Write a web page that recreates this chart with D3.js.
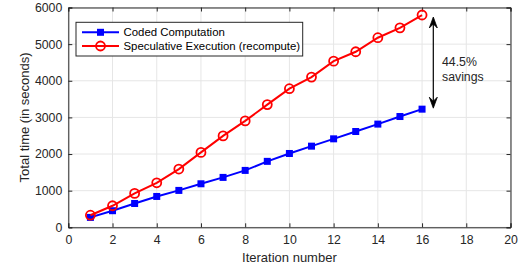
<!DOCTYPE html>
<html><head><meta charset="utf-8">
<script src="https://cdn.jsdelivr.net/npm/d3@7"></script>
<style>body{margin:0;background:#fff}svg{display:block;font-family:"Liberation Sans",Arial,sans-serif}</style>
</head><body><svg id="c" width="518" height="273"></svg>
<script>
const iterations = [1,2,3,4,5,6,7,8,9,10,11,12,13,14,15,16];
const coded = [270,453,650,842,1007,1188,1362,1553,1800,2015,2215,2415,2615,2817,3024,3225];
const speculative = [330,588,925,1215,1590,2045,2495,2905,3350,3783,4100,4535,4792,5175,5445,5795];
const xTicks = [0,2,4,6,8,10,12,14,16,18,20];
const yTicks = [0,1000,2000,3000,4000,5000,6000];
const seriesNames = ["Coded Computation","Speculative Execution (recompute)"];
const annotation = ["44.5%","savings"];

const svg = d3.select("#c");
const L=68.3, R=510.5, T=7.5, B=227.3;
const x = d3.scaleLinear().domain([0,20]).range([L,R]);
const y = d3.scaleLinear().domain([0,6000]).range([B,T]);
const axisCol="#262626";

// grid
const g = svg.append("g");
g.selectAll(".gx").data(xTicks).join("line").attr("x1",d=>x(d)).attr("x2",d=>x(d)).attr("y1",T).attr("y2",B).attr("stroke","#e6e6e6").attr("stroke-width",1);
g.selectAll(".gy").data(yTicks).join("line").attr("y1",d=>y(d)).attr("y2",d=>y(d)).attr("x1",L).attr("x2",R).attr("stroke","#e6e6e6").attr("stroke-width",1);

// axes
const xa = svg.append("g").attr("transform",`translate(0,${B})`).call(d3.axisBottom(x).tickValues(xTicks).tickSize(-4).tickPadding(8).tickFormat(d3.format("d")));
const xt = svg.append("g").attr("transform",`translate(0,${T})`).call(d3.axisTop(x).tickValues(xTicks).tickSize(-4).tickFormat(""));
const ya = svg.append("g").attr("transform",`translate(${L},0)`).call(d3.axisLeft(y).tickValues(yTicks).tickSize(-4).tickPadding(6).tickFormat(d3.format("d")));
const yr = svg.append("g").attr("transform",`translate(${R},0)`).call(d3.axisRight(y).tickValues(yTicks).tickSize(-4).tickFormat(""));
[xa,xt,ya,yr].forEach(a=>{a.selectAll("path").attr("stroke",axisCol).attr("stroke-width",1);a.selectAll("line").attr("stroke",axisCol);a.selectAll("text").attr("fill",axisCol).style("font-size","12.3px").style("font-family","Liberation Sans, Arial, sans-serif");});

// labels
svg.append("text").attr("x",(L+R)/2).attr("y",262).attr("text-anchor","middle").attr("fill",axisCol).style("font-size","13px").text("Iteration number");
svg.append("text").attr("transform",`translate(28.5,${(T+B)/2}) rotate(-90)`).attr("text-anchor","middle").attr("fill",axisCol).style("font-size","13px").text("Total time (in seconds)");

// lines
const line = d3.line().x((d,i)=>x(iterations[i])).y(d=>y(d));
svg.append("path").datum(coded).attr("d",line).attr("fill","none").attr("stroke","#0000ff").attr("stroke-width",2);
svg.selectAll(".sq").data(coded).join("rect").attr("x",(d,i)=>x(iterations[i])-3.5).attr("y",d=>y(d)-3.5).attr("width",7).attr("height",7).attr("fill","#0000ff");
svg.append("path").datum(speculative).attr("d",line).attr("fill","none").attr("stroke","#ff0000").attr("stroke-width",2);
svg.selectAll(".ci").data(speculative).join("circle").attr("cx",(d,i)=>x(iterations[i])).attr("cy",d=>y(d)).attr("r",4.5).attr("fill","none").attr("stroke","#ff0000").attr("stroke-width",1.8);

// annotation arrow
const ax = 433.3;
const yTop = y(speculative[15]) + 2, yBot = y(coded[15]) - 1;
svg.append("line").attr("x1",ax).attr("x2",ax).attr("y1",yTop+4).attr("y2",yBot-4).attr("stroke","#000").attr("stroke-width",1.2);
const aw = 4;
svg.append("path").attr("d",`M${ax-aw},${yTop+11} L${ax},${yTop} L${ax+aw},${yTop+11} L${ax},${yTop+7} Z`).attr("fill","#000").attr("stroke","#000").attr("stroke-width",0.8).attr("stroke-linejoin","round");
svg.append("path").attr("d",`M${ax-aw},${yBot-11} L${ax},${yBot} L${ax+aw},${yBot-11} L${ax},${yBot-7} Z`).attr("fill","#000").attr("stroke","#000").attr("stroke-width",0.8).attr("stroke-linejoin","round");
svg.selectAll(".an").data(annotation).join("text").attr("x",442).attr("y",(d,i)=>65.5+i*15).attr("fill",axisCol).style("font-size","12.3px").text(d=>d);

// legend
const lg = svg.append("g");
lg.append("rect").attr("x",76).attr("y",22.3).attr("width",226.7).attr("height",33.7).attr("fill","#fff").attr("stroke",axisCol).attr("stroke-width",1);
const rows=[32.3,46];
lg.append("line").attr("x1",82).attr("x2",119).attr("y1",rows[0]).attr("y2",rows[0]).attr("stroke","#0000ff").attr("stroke-width",2);
lg.append("rect").attr("x",100.5-3.5).attr("y",rows[0]-3.5).attr("width",7).attr("height",7).attr("fill","#0000ff");
lg.append("line").attr("x1",82).attr("x2",119).attr("y1",rows[1]).attr("y2",rows[1]).attr("stroke","#ff0000").attr("stroke-width",2);
lg.append("circle").attr("cx",100.5).attr("cy",rows[1]).attr("r",4.5).attr("fill","none").attr("stroke","#ff0000").attr("stroke-width",1.8);
lg.selectAll(".lt").data(seriesNames).join("text").attr("x",123.5).attr("y",(d,i)=>rows[i]+4).attr("fill","#000").style("font-size","11.4px").text(d=>d);
</script></body></html>
